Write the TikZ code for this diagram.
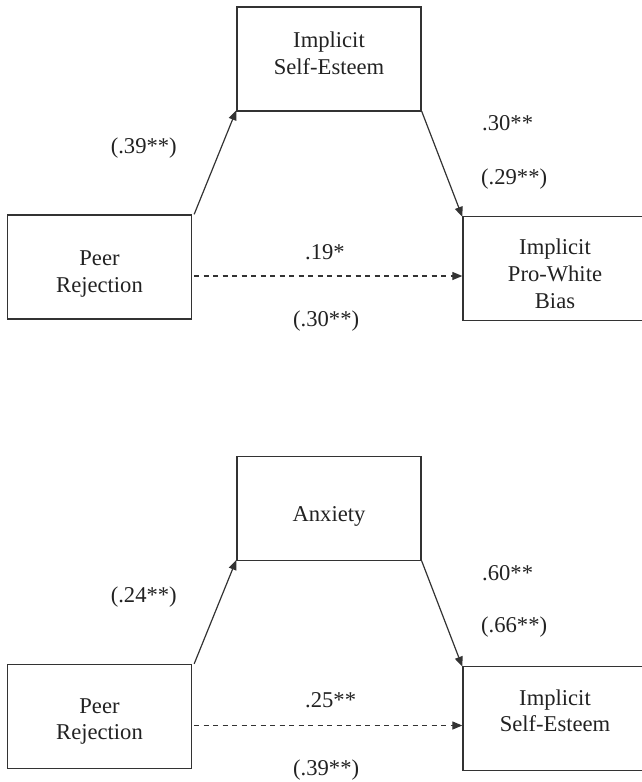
\documentclass[tikz,border=0pt]{standalone}
\usepackage{fontspec}
\setmainfont{Liberation Serif}
\usetikzlibrary{arrows.meta}
\definecolor{ink}{HTML}{222222}
\definecolor{edge}{HTML}{333333}
\tikzset{
  box/.style={draw=edge, line width=1.3pt, minimum width=184pt, minimum height=104pt, inner sep=0pt},
  boxtext/.style={inner sep=0pt, align=center, text=ink, font=\fontsize{22.6}{26.8}\selectfont},
  coef/.style={anchor=west, inner sep=0pt, text=ink, font=\fontsize{22.6}{26.8}\selectfont},
  conn/.style={draw=edge, line width=1.2pt, -{Triangle[length=10pt,width=8pt]}},
  dconn/.style={conn, dash pattern=on 5pt off 4.5pt}
}
\begin{document}
\begin{tikzpicture}[x=1pt,y=-1pt]
\useasboundingbox (0,0) rectangle (642,782);
\clip (0,0) rectangle (642,782);
% ---- top model ----
\node[box] (med1) at (329,59) {};
\node[boxtext] (med1t) at ([yshift=5.5pt]med1.center) {Implicit\\Self-Esteem};
\node[box] (pr1) at (99.5,267) {};
\node[boxtext] (pr1t) at ([yshift=-7pt]pr1.center) {Peer\\Rejection};
\node[box] (out1) at (555,268.5) {};
\node[boxtext] (out1t) at ([yshift=-5.5pt]out1.center) {Implicit\\Pro-White\\Bias};
\draw[conn] ([xshift=2pt]pr1.north east) -- ([yshift=1.5pt]med1.south west);
\draw[conn] ([yshift=0.5pt]med1.south east) -- ([yshift=-1pt]out1.north west);
\draw[dconn] ([xshift=2pt,yshift=-9pt]pr1.east) -- ([yshift=-9pt]pr1.east -| out1.west);
\node[coef] (a1) at (110.6,148) {(.39**)};
\node[coef] (b1) at (482,123) {.30**};
\node[coef] (b1t) at (481,179) {(.29**)};
\node[coef] (c1) at (305,252) {.19*};
\node[coef] (c1t) at (293,321) {(.30**)};
% ---- bottom model ----
\node[box] (med2) at (329,508.7) {};
\node[boxtext] (med2t) at ([yshift=-7.5pt]med2.center) {Anxiety};
\node[box] (pr2) at (99.5,716.5) {};
\node[boxtext] (pr2t) at ([yshift=-5pt]pr2.center) {Peer\\Rejection};
\node[box] (out2) at (555,718.3) {};
\node[boxtext] (out2t) at ([yshift=7.5pt]out2.center) {Implicit\\Self-Esteem};
\draw[conn] ([xshift=2pt]pr2.north east) -- ([yshift=1.5pt]med2.south west);
\draw[conn] ([yshift=0.5pt]med2.south east) -- ([yshift=-1pt]out2.north west);
\draw[dconn] ([xshift=2pt,yshift=-9pt]pr2.east) -- ([yshift=-9pt]pr2.east -| out2.west);
\node[coef] (a2) at (110.6,596.7) {(.24**)};
\node[coef] (b2) at (482,572.7) {.60**};
\node[coef] (b2t) at (481,627.3) {(.66**)};
\node[coef] (c2) at (305,700) {.25**};
\node[coef] (c2t) at (293,770) {(.39**)};
\end{tikzpicture}
\end{document}
